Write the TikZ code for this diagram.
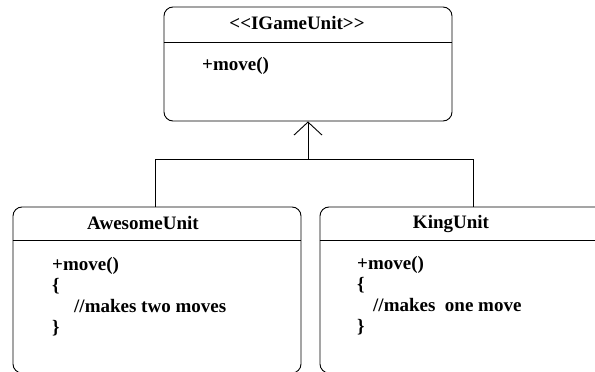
\documentclass[tikz,border=0pt]{standalone}
\usepackage{fontspec}
\setmainfont{Liberation Serif}
\usetikzlibrary{arrows.meta}
\begin{document}
\begin{tikzpicture}[x=1pt,y=-1pt,
  umlbox/.style={draw,line width=0.9pt,rounded corners=9pt,inner sep=0pt},
  txt/.style={font=\fontsize{19}{21}\selectfont\bfseries,inner sep=0pt,anchor=base west},
  ttl/.style={font=\fontsize{19}{21}\selectfont\bfseries,inner sep=0pt,anchor=base},
  conn/.style={line width=0.9pt}]
\useasboundingbox (0,0) rectangle (595,372);
\clip (0,0) rectangle (595,372);
% boxes
\node[umlbox,minimum width=288pt,minimum height=114pt] (I) at (308,64) {};
\node[umlbox,minimum width=288pt,minimum height=166pt] (A) at (157,290) {};
\node[umlbox,minimum width=300pt,minimum height=166pt] (K) at (470,290) {};
% dividers
\draw[conn] ([yshift=-36pt]I.north west) -- ([yshift=-36pt]I.north east);
\draw[conn] ([yshift=-34pt]A.north west) -- ([yshift=-34pt]A.north east);
\draw[conn] ([yshift=-34pt]K.north west) -- ([yshift=-34pt]K.north east);
% texts
\node[ttl] (it) at (297,29) {{<}{<}IGameUnit{>}{>}};
\node[txt] (im) at (202,70) {+move()};
\node[ttl] (at) at (143,229) {AwesomeUnit};
\node[txt] (a1) at (52,270) {+move()};
\node[txt] (a2) at (52,291) {\{};
\node[txt] (a3) at (74,312) {//makes two moves};
\node[txt] (a4) at (52,333) {\}};
\node[ttl] (kt) at (451,228) {KingUnit};
\node[txt] (k1) at (357,269) {+move()};
\node[txt] (k2) at (357,290) {\{};
\node[txt] (k3) at (373,311) {//makes\ \ one move};
\node[txt] (k4) at (357,332) {\}};
% connectors
\coordinate (hl) at (155,159);
\coordinate (hr) at (473,159);
\coordinate (hm) at (308,159);
\draw[conn] (A.north -| hl) -- (hl) -- (hr) -- (K.north -| hr);
\draw[conn,-{Straight Barb[length=13pt,width=28pt,line width=0.9pt]}] (hm) -- (I.south);
\end{tikzpicture}
\end{document}
